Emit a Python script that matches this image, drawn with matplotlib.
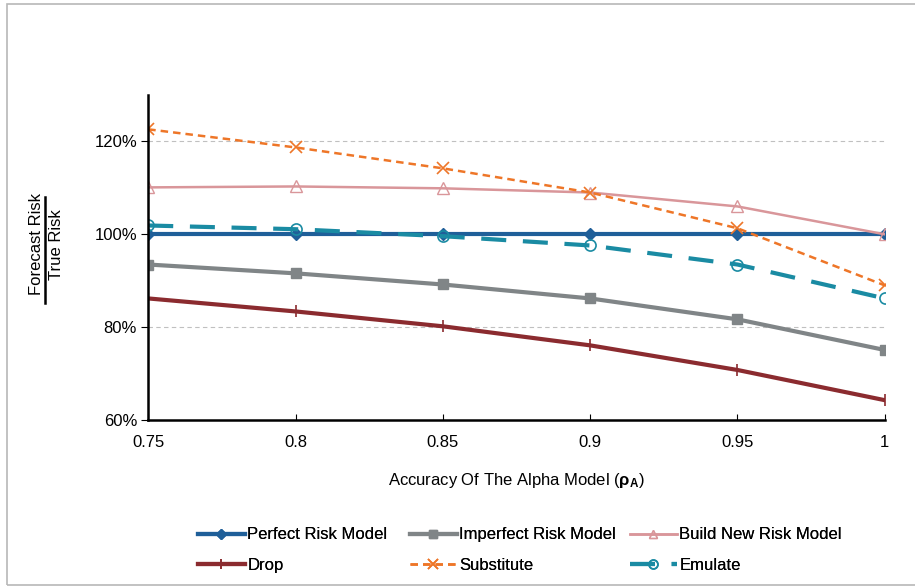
import matplotlib
matplotlib.use('Agg')
import matplotlib.pyplot as plt
from matplotlib.patches import Rectangle

plt.rcParams['font.family'] = ['Liberation Sans', 'DejaVu Sans']
plt.rcParams['mathtext.fontset'] = 'custom'
plt.rcParams['mathtext.rm'] = 'Liberation Sans'
plt.rcParams['mathtext.bf'] = 'Liberation Sans:bold'

accuracy = [0.75, 0.8, 0.85, 0.9, 0.95, 1.0]
x_labels = ['0.75', '0.8', '0.85', '0.9', '0.95', '1']

perfect = [100, 100, 100, 100, 100, 100]
imperfect = [93.5, 91.6, 89.2, 86.2, 81.7, 75.1]
build_new = [110.1, 110.3, 109.9, 109.0, 106.0, 100.0]
drop = [86.2, 83.4, 80.2, 76.1, 70.8, 64.3]
substitute = [122.6, 118.7, 114.2, 109.0, 101.3, 89.0]
emulate = [101.9, 101.1, 99.6, 97.6, 93.5, 86.2]

fig = plt.figure(figsize=(9.15, 5.86), dpi=100)
ax = fig.add_axes([0.162, 0.283, 0.805, 0.555])

# outer frame
fig.patches.append(Rectangle((7 / 915, 1 / 586), 1.2, 1 - 5 / 586, transform=fig.transFigure,
                             fill=False, edgecolor='#b8b8b8', lw=1.2, zorder=0))

for yv in [80, 100, 120]:
    ax.axhline(yv, color='#c0c0c0', lw=0.8, ls=(0, (4, 3)), zorder=0)

l_perf, = ax.plot(accuracy, perfect, color='#1f5f99', lw=3, marker='D', ms=6, label='Perfect Risk Model')
l_imp, = ax.plot(accuracy, imperfect, color='#808587', lw=3, marker='s', ms=7, label='Imperfect Risk Model')
l_build, = ax.plot(accuracy, build_new, color='#d9969a', lw=1.8, marker='^', ms=8, mfc='none',
                   label='Build New Risk Model')
l_drop, = ax.plot(accuracy, drop, color='#8b2b2f', lw=3, marker='|', ms=9, mew=1.2, label='Drop')
l_sub, = ax.plot(accuracy, substitute, color='#ee7628', lw=1.8, ls=(0, (3, 2)), marker='x', ms=9,
                 mew=1.2, label='Substitute')
l_emu, = ax.plot(accuracy, emulate, color='#1a8ba3', lw=3, ls=(0, (6, 4)), marker='o', ms=8,
                 mfc='none', mew=1.2, label='Emulate')

ax.set_xlim(0.75, 1.0)
ax.set_ylim(60, 130)
ax.set_xticks(accuracy)
ax.set_xticklabels(x_labels, fontsize=12)
ax.set_yticks([60, 80, 100, 120])
ax.set_yticklabels(['60%', '80%', '100%', '120%'], fontsize=12)
ax.tick_params(axis='x', direction='in', length=4, pad=11)
ax.tick_params(axis='y', direction='out', length=5, pad=3)
ax.spines['top'].set_visible(False)
ax.spines['right'].set_visible(False)
ax.spines['left'].set_linewidth(1.8)
ax.spines['bottom'].set_linewidth(1.8)

ax.set_xlabel(r'Accuracy Of The Alpha Model ($\mathbf{\rho_A}$)', fontsize=12, labelpad=15)

# fraction-style y label
fig.text(0.040, 0.583, 'Forecast Risk', rotation=90, ha='center', va='center', fontsize=12)
fig.text(0.062, 0.583, 'True Risk', rotation=90, ha='center', va='center', fontsize=12)
fig.add_artist(plt.Line2D([0.049, 0.049], [0.483, 0.664], transform=fig.transFigure,
                          color='black', lw=1.8))

# legend in three equal-width columns
columns = [(l_perf, l_drop), (l_imp, l_sub), (l_build, l_emu)]
x_starts = [198 / 915, 410 / 915, 630 / 915]
for col, x0 in zip(columns, x_starts):
    leg = fig.legend(handles=list(col), labels=[h.get_label() for h in col], loc='upper left',
                     bbox_to_anchor=(x0, 0.100), frameon=False, fontsize=12, borderaxespad=0,
                     borderpad=0, handlelength=2.8, handletextpad=0.15, labelspacing=0.95,
                     markerscale=0.8)
    fig.add_artist(leg)

fig.savefig('out.png', dpi=100)
